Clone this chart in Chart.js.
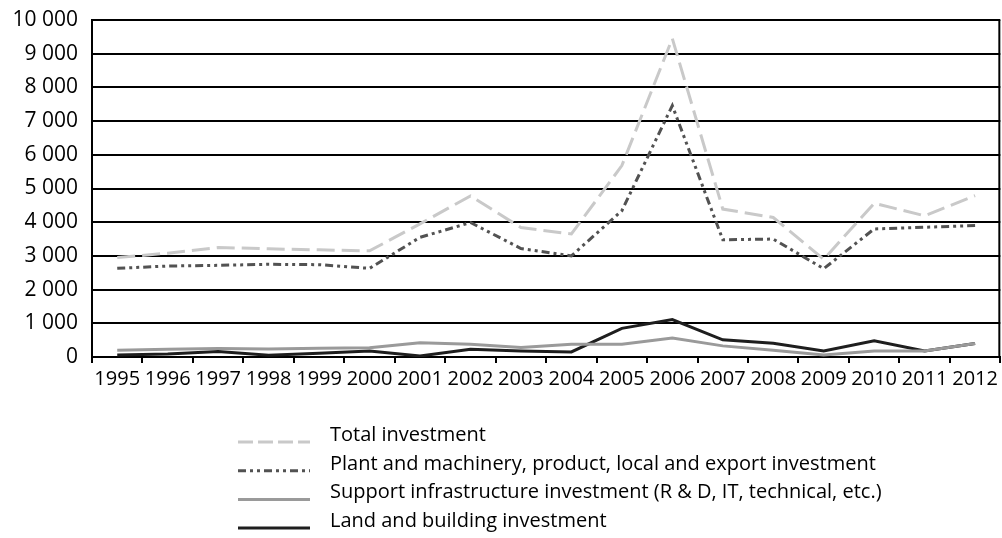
<!DOCTYPE html>
<html>
<head>
<meta charset="utf-8">
<script src="https://cdn.jsdelivr.net/npm/chart.js@4.4.1/dist/chart.umd.min.js"></script>
<style>
  html, body { margin: 0; padding: 0; background: #fff; }
  #wrap { width: 1002px; height: 538px; }
</style>
</head>
<body>
<div id="wrap"><canvas id="myChart"></canvas></div>
<script>
// data
var years = ['1995','1996','1997','1998','1999','2000','2001','2002','2003','2004','2005','2006','2007','2008','2009','2010','2011','2012']
var totalInv   = [2950, 3080, 3250, 3210, 3180, 3150, 3950, 4780, 3840, 3650, 5680, 9450, 4390, 4140, 2900, 4560, 4190, 4790]
var plantInv   = [2630, 2700, 2720, 2750, 2740, 2630, 3550, 3990, 3220, 3000, 4340, 7460, 3480, 3500, 2620, 3800, 3850, 3900]
var supportInv = [200, 230, 250, 240, 260, 275, 425, 380, 280, 380, 380, 560, 330, 200, 60, 180, 180, 400]
var landInv    = [60, 90, 160, 50, 110, 180, 30, 230, 180, 150, 850, 1110, 510, 410, 180, 480, 180, 400]
var yTicks = { min: 0, max: 10000, step: 1000 }

var FONT = "'Open Sans', sans-serif"

function spaced(v) {
    return String(v).replace(/\B(?=(\d{3})+(?!\d))/g, ' ')
}

// legend drawn one item per row under the axis, like the original
var stackedLegend = {
    id: 'stackedLegend',
    afterDraw: function (chart) {
        var c = chart.ctx
        var x0 = 238, x1 = 310, tx = 330, base = 441, step = 28.7
        chart.data.datasets.forEach(function (ds, i) {
            var y = base + i * step
            c.save()
            c.strokeStyle = ds.borderColor
            c.lineWidth = ds.borderWidth
            c.setLineDash(ds.legendDash || ds.borderDash || [])
            c.beginPath()
            c.moveTo(x0, y + 1)
            c.lineTo(x1, y + 1)
            c.stroke()
            c.restore()
            c.save()
            c.fillStyle = '#000'
            c.font = '20px ' + FONT
            c.textBaseline = 'alphabetic'
            c.fillText(ds.label, tx, y)
            c.restore()
        })
        // right frame line
        var a = chart.chartArea
        c.save()
        c.strokeStyle = '#000'
        c.lineWidth = 2
        c.beginPath()
        c.moveTo(a.right - 1, a.top)
        c.lineTo(a.right - 1, a.bottom)
        c.stroke()
        c.restore()
    }
}

var ctx = document.getElementById('myChart')

new Chart(ctx, {
    type: 'line',
    data: {
        labels: years,
        datasets: [
            {
                label: 'Total investment',
                data: totalInv,
                borderColor: '#c9c9c9',
                borderWidth: 3,
                borderDash: [18, 7],
                legendDash: [15, 5]
            },
            {
                label: 'Plant and machinery, product, local and export investment',
                data: plantInv,
                borderColor: '#525252',
                borderWidth: 3,
                borderDash: [8, 4, 3, 4, 3, 4]
            },
            {
                label: 'Support infrastructure investment (R & D, IT, technical, etc.)',
                data: supportInv,
                borderColor: '#9a9a9a',
                borderWidth: 3
            },
            {
                label: 'Land and building investment',
                data: landInv,
                borderColor: '#1e1e1e',
                borderWidth: 3
            }
        ]
    },
    options: {
        responsive: true,
        maintainAspectRatio: false,
        animation: false,
        elements: {
            line: { tension: 0, fill: false },
            point: { radius: 0 }
        },
        layout: { padding: { top: 20, right: 1, bottom: 143, left: 0 } },
        plugins: {
            legend: { display: false },
            tooltip: { enabled: false }
        },
        scales: {
            x: {
                offset: true,
                grid: {
                    offset: true,
                    drawOnChartArea: false,
                    color: '#000',
                    lineWidth: 2,
                    tickLength: 6
                },
                border: { color: '#000', width: 2 },
                ticks: {
                    color: '#000',
                    padding: 4,
                    autoSkip: false,
                    maxRotation: 0,
                    font: { family: FONT, size: 20 }
                }
            },
            y: {
                min: yTicks.min,
                max: yTicks.max,
                afterFit: function (scale) { scale.width = 92 },
                grid: {
                    color: '#000',
                    lineWidth: 2,
                    drawTicks: false
                },
                border: { color: '#000', width: 2 },
                ticks: {
                    stepSize: yTicks.step,
                    color: '#000',
                    padding: 14,
                    font: { family: FONT, size: 21, lineHeight: 0.5 },
                    callback: function (v) { return spaced(v) }
                }
            }
        }
    },
    plugins: [stackedLegend]
})
</script>
</body>
</html>
